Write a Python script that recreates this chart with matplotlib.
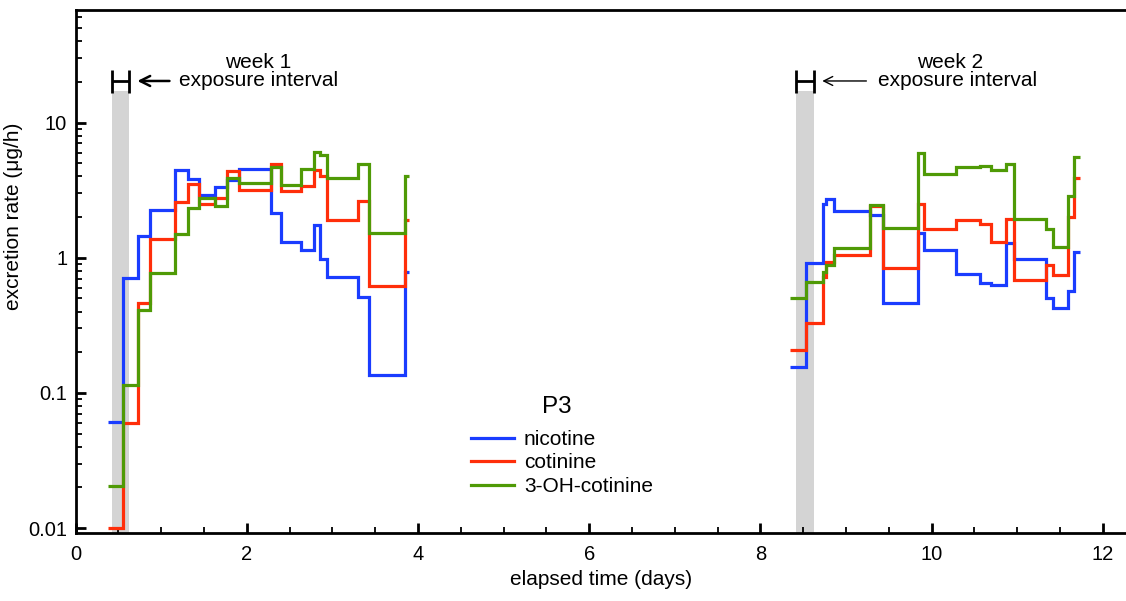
import matplotlib
matplotlib.use("Agg")
import matplotlib.pyplot as plt
from matplotlib.ticker import LogLocator, NullFormatter, MultipleLocator

plt.rcParams['font.family'] = ['Liberation Sans', 'DejaVu Sans']

# week 1 sampling intervals (days) and excretion rates (ug/h)
edges_w1 = [0.376, 0.56, 0.726, 0.874, 1.166, 1.31, 1.447, 1.63, 1.766, 1.914,
            2.287, 2.405, 2.635, 2.78, 2.855, 2.935, 3.295, 3.425, 3.85, 3.90]
nic_w1 = [0.061, 0.71, 1.46, 2.26, 4.47, 3.84, 2.92, 3.33, 3.77, 4.55,
          2.15, 1.31, 1.15, 1.75, 0.98, 0.72, 0.51, 0.135, 0.78]
cot_w1 = [0.01, 0.06, 0.46, 1.38, 2.58, 3.52, 2.51, 2.77, 4.37, 3.18,
          4.92, 3.09, 3.42, 4.42, 3.99, 1.89, 2.65, 0.62, 1.89]
oh_w1 = [0.0204, 0.114, 0.41, 0.775, 1.49, 2.33, 2.78, 2.41, 3.90, 3.58,
         4.68, 3.48, 4.55, 6.03, 5.77, 3.90, 4.9, 1.52, 4.0]

# week 2
edges_w2 = [8.347, 8.534, 8.736, 8.77, 8.865, 9.28, 9.43, 9.846, 9.912, 10.28,
            10.56, 10.695, 10.87, 10.956, 11.33, 11.42, 11.59, 11.665, 11.735]
nic_w2 = [0.155, 0.92, 2.5, 2.73, 2.2, 2.08, 0.465, 1.53, 1.15, 0.76,
          0.65, 0.63, 1.28, 0.98, 0.50, 0.425, 0.567, 1.11]
cot_w2 = [0.206, 0.33, 0.72, 0.93, 1.04, 2.4, 0.84, 2.5, 1.62, 1.89,
          1.78, 1.31, 1.94, 0.68, 0.89, 0.74, 2.0, 3.88]
oh_w2 = [0.50, 0.66, 0.79, 0.88, 1.18, 2.44, 1.66, 5.94, 4.13, 4.68,
         4.81, 4.42, 4.95, 1.92, 1.62, 1.21, 2.86, 5.6]

exposure = [(0.423, 0.629), (8.417, 8.626)]
labels = ['nicotine', 'cotinine', '3-OH-cotinine']
colors = ['#1a3cff', '#ff2e0a', '#4f9a06']

fig = plt.figure(figsize=(11.26, 6.01), dpi=100)
ax = fig.add_axes([75.5 / 1126, 68 / 601, 1050.5 / 1126, 523 / 601])
ax.set_yscale('log')
ax.set_xlim(0, 12.27)
ax.set_ylim(0.0092, 68)

# exposure bands with H marker
for x0, x1 in exposure:
    ax.fill_between([x0, x1], 0.005, 17, color='#d4d4d4', lw=0, zorder=1)
    ax.vlines([x0, x1], 16.5, 24.5, color='k', lw=2.0, zorder=3)
    ax.hlines(20.3, x0, x1, color='k', lw=2.0, zorder=3)

weeks = [(edges_w1, [nic_w1, cot_w1, oh_w1]), (edges_w2, [nic_w2, cot_w2, oh_w2])]
for edges, series in weeks:
    for vals, c, lab in zip(series, colors, labels):
        ax.stairs(vals, edges, baseline=None, color=c, lw=2.3, zorder=2,
                  label=lab if edges is edges_w1 else None)

# annotations
ax.annotate('', xy=(0.69, 20.3), xytext=(1.13, 20.3),
            arrowprops=dict(arrowstyle='->', lw=1.8, color='k', mutation_scale=18))
ax.text(2.13, 28.0, 'week 1', ha='center', va='center', fontsize=15)
ax.text(1.21, 20.3, 'exposure interval', ha='left', va='center', fontsize=15)
ax.annotate('', xy=(8.69, 20.3), xytext=(9.27, 20.3),
            arrowprops=dict(arrowstyle='->', lw=1.0, color='k', mutation_scale=16))
ax.text(10.21, 28.0, 'week 2', ha='center', va='center', fontsize=15)
ax.text(9.37, 20.3, 'exposure interval', ha='left', va='center', fontsize=15)

leg = ax.legend(loc='center', bbox_to_anchor=(0.463, 0.134),
                frameon=False, fontsize=15, handlelength=2.05,
                handletextpad=0.5, labelspacing=0.21, borderpad=0, borderaxespad=0)
ax.text(5.62, 0.079, 'P3', ha='center', va='center', fontsize=17.5)

# axes styling
ax.spines['right'].set_visible(False)
for s in ['left', 'bottom', 'top']:
    ax.spines[s].set_linewidth(2.0)
ax.set_yticks([0.01, 0.1, 1, 10])
ax.set_yticklabels(['0.01', '0.1', '1', '10'])
ax.yaxis.set_minor_locator(LogLocator(base=10, subs=range(2, 10)))
ax.yaxis.set_minor_formatter(NullFormatter())
ax.xaxis.set_major_locator(MultipleLocator(2))
ax.xaxis.set_minor_locator(MultipleLocator(0.5))
ax.tick_params(which='major', direction='in', length=7, width=2.0, labelsize=14.5, pad=6)
ax.tick_params(which='minor', direction='in', length=4, width=1.3)
ax.tick_params(axis='x', which='major', pad=9)
ax.tick_params(axis='y', which='both', right=False)
ax.tick_params(axis='x', which='both', top=False)

ax.set_xlabel('elapsed time (days)', fontsize=15, labelpad=4)
ax.set_ylabel('excretion rate (μg/h)', fontsize=15)
ax.yaxis.set_label_coords(-0.05, 0.606)

fig.savefig('out.png', dpi=100)
